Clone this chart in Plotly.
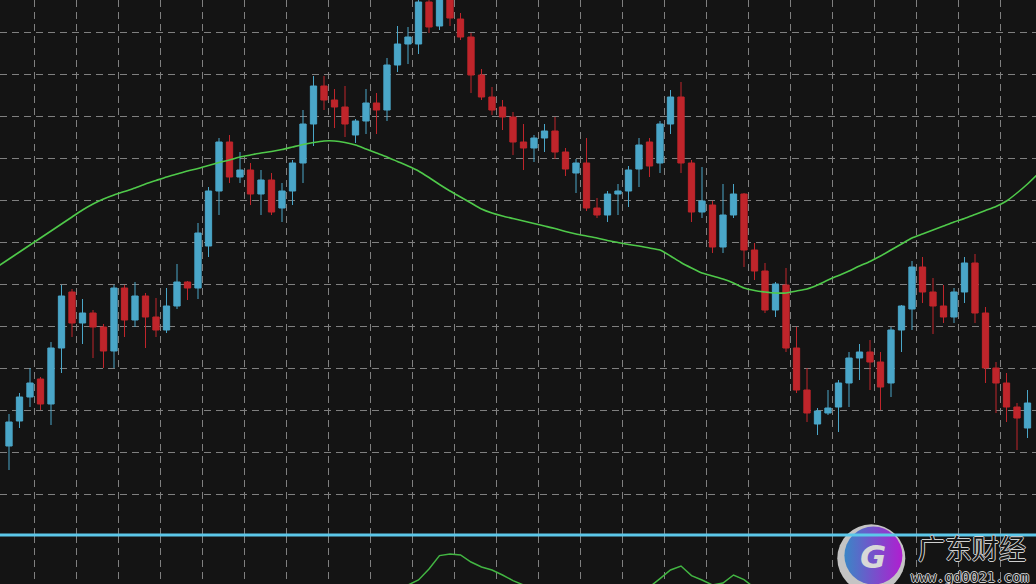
import plotly.graph_objects as go

# ---------------- data ----------------
candle_open = [1.3554, 1.3579, 1.3603, 1.3621, 1.3596, 1.3652, 1.3708, 1.3677, 1.3687, 1.3673,
               1.3649, 1.3712, 1.3680, 1.3704, 1.3683, 1.3670, 1.3694, 1.3718, 1.3712, 1.3754,
               1.3809, 1.3858, 1.3823, 1.3830, 1.3806, 1.3820, 1.3792, 1.3809, 1.3837, 1.3876,
               1.3914, 1.3900, 1.3893, 1.3865, 1.3879, 1.3897, 1.3890, 1.3935, 1.3956, 1.3956,
               1.3998, 1.3974, 1.4003, 1.3981, 1.3963, 1.3925, 1.3903, 1.3893, 1.3883, 1.3858,
               1.3852, 1.3862, 1.3869, 1.3848, 1.3827, 1.3837, 1.3792, 1.3785, 1.3806, 1.3809,
               1.3831, 1.3858, 1.3837, 1.3876, 1.3903, 1.3837, 1.3788, 1.3795, 1.3753, 1.3785,
               1.3806, 1.3750, 1.3729, 1.3690, 1.3715, 1.3652, 1.3610, 1.3576, 1.3587, 1.3593,
               1.3617, 1.3642, 1.3648, 1.3638, 1.3617, 1.3670, 1.3691, 1.3733, 1.3708, 1.3694,
               1.3683, 1.3708, 1.3737, 1.3687, 1.3632, 1.3617, 1.3593, 1.3572]
candle_high = [1.3586, 1.3607, 1.3632, 1.3623, 1.3658, 1.3715, 1.3711, 1.3701, 1.3690, 1.3676,
               1.3715, 1.3715, 1.3718, 1.3707, 1.3702, 1.3712, 1.3736, 1.3719, 1.3777, 1.3813,
               1.3862, 1.3865, 1.3848, 1.3837, 1.3830, 1.3827, 1.3817, 1.3840, 1.3890, 1.3924,
               1.3924, 1.3911, 1.3914, 1.3881, 1.3911, 1.3907, 1.3942, 1.3974, 1.3973, 1.4004,
               1.4004, 1.4008, 1.4008, 1.3987, 1.3967, 1.3931, 1.3913, 1.3900, 1.3888, 1.3876,
               1.3865, 1.3876, 1.3883, 1.3852, 1.3841, 1.3862, 1.3802, 1.3809, 1.3816, 1.3834,
               1.3862, 1.3862, 1.3879, 1.3910, 1.3918, 1.3840, 1.3833, 1.3799, 1.3816, 1.3816,
               1.3807, 1.3757, 1.3737, 1.3718, 1.3732, 1.3673, 1.3632, 1.3592, 1.3610, 1.3620,
               1.3648, 1.3656, 1.3660, 1.3648, 1.3673, 1.3695, 1.3739, 1.3743, 1.3722, 1.3715,
               1.3712, 1.3743, 1.3746, 1.3693, 1.3638, 1.3627, 1.3597, 1.3610]
candle_low = [1.3530, 1.3572, 1.3593, 1.3590, 1.3575, 1.3627, 1.3663, 1.3656, 1.3642, 1.3632,
              1.3632, 1.3663, 1.3673, 1.3652, 1.3663, 1.3667, 1.3691, 1.3700, 1.3701, 1.3743,
              1.3785, 1.3817, 1.3817, 1.3795, 1.3785, 1.3785, 1.3778, 1.3795, 1.3817, 1.3854,
              1.3890, 1.3872, 1.3863, 1.3857, 1.3866, 1.3866, 1.3879, 1.3928, 1.3936, 1.3946,
              1.3967, 1.3970, 1.3974, 1.3960, 1.3907, 1.3900, 1.3885, 1.3870, 1.3845, 1.3830,
              1.3838, 1.3848, 1.3841, 1.3824, 1.3807, 1.3789, 1.3782, 1.3778, 1.3785, 1.3793,
              1.3813, 1.3823, 1.3827, 1.3866, 1.3827, 1.3778, 1.3782, 1.3747, 1.3747, 1.3782,
              1.3733, 1.3720, 1.3687, 1.3683, 1.3648, 1.3607, 1.3578, 1.3565, 1.3585, 1.3568,
              1.3593, 1.3620, 1.3610, 1.3590, 1.3603, 1.3648, 1.3670, 1.3697, 1.3666, 1.3677,
              1.3677, 1.3697, 1.3677, 1.3617, 1.3587, 1.3578, 1.3550, 1.3562]
candle_close = [1.3578, 1.3603, 1.3617, 1.3596, 1.3652, 1.3704, 1.3677, 1.3687, 1.3673, 1.3649,
                1.3712, 1.3680, 1.3704, 1.3683, 1.3670, 1.3694, 1.3718, 1.3712, 1.3767, 1.3809,
                1.3858, 1.3823, 1.3830, 1.3806, 1.3820, 1.3788, 1.3809, 1.3837, 1.3876, 1.3914,
                1.3900, 1.3893, 1.3876, 1.3879, 1.3897, 1.3890, 1.3935, 1.3956, 1.3963, 1.3998,
                1.3973, 1.4003, 1.3982, 1.3963, 1.3925, 1.3903, 1.3890, 1.3883, 1.3858, 1.3852,
                1.3862, 1.3869, 1.3848, 1.3831, 1.3837, 1.3792, 1.3785, 1.3806, 1.3809, 1.3830,
                1.3855, 1.3834, 1.3876, 1.3903, 1.3837, 1.3788, 1.3799, 1.3753, 1.3785, 1.3806,
                1.3750, 1.3729, 1.3690, 1.3716, 1.3652, 1.3610, 1.3587, 1.3589, 1.3592, 1.3617,
                1.3642, 1.3648, 1.3638, 1.3613, 1.3670, 1.3694, 1.3733, 1.3708, 1.3694, 1.3683,
                1.3708, 1.3737, 1.3687, 1.3632, 1.3617, 1.3593, 1.3582, 1.3597]

# moving average, one value per bar from the bar before the first to the bar after the last
ma_values = [1.3734, 1.3741, 1.3748, 1.3755, 1.3762, 1.3769, 1.3776, 1.3783, 1.3790, 1.3796,
             1.3801, 1.3805, 1.38085, 1.3812, 1.3816, 1.38195, 1.3823, 1.3826, 1.3829, 1.38315,
             1.38345, 1.38375, 1.3840, 1.3843, 1.3845, 1.3847, 1.38485, 1.38505, 1.3853, 1.38555,
             1.38575, 1.3859, 1.3859, 1.38575, 1.3855, 1.3851, 1.3847, 1.3843, 1.38385, 1.3834,
             1.3829, 1.38225, 1.38155, 1.3809, 1.3803, 1.3797, 1.3791, 1.3787, 1.3784, 1.37815,
             1.3779, 1.37765, 1.3774, 1.37715, 1.37685, 1.3766, 1.3764, 1.3762, 1.37595, 1.37575,
             1.37555, 1.3754, 1.3752, 1.3750, 1.3744, 1.37375, 1.3732, 1.3727, 1.3724, 1.3721,
             1.3717, 1.3712, 1.37095, 1.3708, 1.3707, 1.3707, 1.3709, 1.3711, 1.3715, 1.3720,
             1.37245, 1.3729, 1.3734, 1.37385, 1.3744, 1.3750, 1.3756, 1.3762, 1.3766, 1.3770,
             1.3774, 1.3778, 1.37815, 1.37855, 1.37895, 1.37935, 1.3799, 1.3807, 1.3816, 1.3826]

# lower-window oscillator, one value per bar (mostly below the visible part of the window)
osc_values = [12, 11, 13, 12, 10, 12, 14, 13, 11, 12,
              13, 12, 11, 12, 13, 14, 12, 11, 12, 13,
              12, 11, 12, 13, 12, 11, 10, 12, 13, 12,
              11, 12, 13, 12, 11, 12, 13, 16, 19.5, 22,
              27.5, 34.2, 35, 34.5, 31, 28.5, 27, 24.5, 21.7, 19.5,
              17, 14, 12, 13, 12, 11, 12, 13, 14, 13,
              16, 18.5, 22.7, 27, 29, 24.2, 22, 19.5, 20.5, 24.5,
              22.2, 18, 14, 12, 11, 12, 13, 12, 11, 12,
              13, 12, 11, 12, 13, 12, 11, 12, 13, 12,
              11, 12, 13, 12, 11, 12, 13, 12]

logo_title = "广东财经"
logo_url = "www.gd0021.com"

# ---------------- styling ----------------
BG = "#141414"
GRID = "#808080"
UP = "#4aa6c8"
DOWN = "#bf252b"
MA_COLOR = "#4fc94a"
OSC_COLOR = "#43b643"
SEP_COLOR = "#5cc8ea"

W, H = 1036, 584
n = len(candle_open)
bar_idx = list(range(n))
ma_idx = list(range(-1, n + 1))

fig = go.Figure()

fig.add_trace(go.Candlestick(
    x=bar_idx, open=candle_open, high=candle_high, low=candle_low, close=candle_close,
    increasing=dict(line=dict(color=UP, width=1), fillcolor=UP),
    decreasing=dict(line=dict(color=DOWN, width=1), fillcolor=DOWN),
    whiskerwidth=0, showlegend=False, hoverinfo="skip",
    xaxis="x", yaxis="y"))

fig.add_trace(go.Scatter(
    x=ma_idx, y=ma_values, mode="lines",
    line=dict(color=MA_COLOR, width=1.6, shape="spline", smoothing=0.6),
    showlegend=False, hoverinfo="skip", xaxis="x", yaxis="y"))

fig.add_trace(go.Scatter(
    x=bar_idx, y=osc_values, mode="lines", line=dict(color=OSC_COLOR, width=1.5),
    showlegend=False, hoverinfo="skip", xaxis="x2", yaxis="y2"))

# watermark logo (decoration, placed in its own small frame)
fig.add_trace(go.Scatter(
    x=[0.49], y=[0.45], mode="markers", cliponaxis=False,
    marker=dict(size=68, color="#c4c4c4", line=dict(width=0)),
    showlegend=False, hoverinfo="skip", xaxis="x3", yaxis="y3"))
fig.add_trace(go.Scatter(
    x=[0.52], y=[0.5], mode="markers", cliponaxis=False,
    marker=dict(size=58, color="#3a86c6", gradient=dict(type="horizontal", color="#b01ed0"),
                line=dict(width=0)),
    showlegend=False, hoverinfo="skip", xaxis="x3", yaxis="y3"))

# ---------------- layout ----------------
px_per_bar = 10.5
first_bar_px = 9.0
x_lo = -first_bar_px / px_per_bar
x_hi = x_lo + W / px_per_bar
grid_x0 = (34 - first_bar_px) / px_per_bar

main_bottom = 50 / H
osc_top = 48 / H
sep_y = (main_bottom + osc_top) / 2

xgrid = dict(showgrid=True, gridcolor=GRID, gridwidth=1, griddash="7px,5px",
             tickmode="linear", tick0=grid_x0, dtick=4, showticklabels=False,
             ticks="", zeroline=False, showline=False, range=[x_lo, x_hi],
             rangeslider=dict(visible=False), fixedrange=True)

fig.update_layout(
    width=W, height=H,
    margin=dict(l=0, r=0, t=0, b=0, pad=0),
    paper_bgcolor=BG, plot_bgcolor="rgba(0,0,0,0)",
    showlegend=False, boxgap=0.4, boxgroupgap=0,
    xaxis=dict(domain=[0, 1], anchor="y", **xgrid),
    xaxis2=dict(domain=[0, 1], anchor="y2", matches="x", **xgrid),
    yaxis=dict(domain=[main_bottom, 1], anchor="x", range=[1.3466, 1.4000],
               showgrid=True, gridcolor=GRID, gridwidth=1, griddash="7px,5px",
               tickmode="linear", tick0=1.3968, dtick=0.0042,
               showticklabels=False, ticks="", zeroline=False, showline=False,
               fixedrange=True),
    yaxis2=dict(domain=[0, osc_top], anchor="x2", range=[20, 44],
                showgrid=False, showticklabels=False, ticks="", zeroline=False,
                showline=False, fixedrange=True),
    xaxis3=dict(domain=[837 / W, 907 / W], anchor="y3", range=[0, 1], visible=False,
                fixedrange=True),
    yaxis3=dict(domain=[0, 57 / H], anchor="x3", range=[0, 1], visible=False,
                fixedrange=True),
)

# separator between the price window and the indicator window
fig.add_shape(type="line", xref="paper", yref="paper", x0=0, x1=1, y0=sep_y, y1=sep_y,
              line=dict(color=SEP_COLOR, width=3), layer="above")

outline = ("1px 0 0 #cfcfcf, -1px 0 0 #cfcfcf, 0 1px 0 #cfcfcf, 0 -1px 0 #cfcfcf")
fig.add_annotation(text="<b><i>G</i></b>", xref="x3", yref="y3", x=0.52, y=0.47,
                   xanchor="center", yanchor="middle", showarrow=False,
                   font=dict(family="DejaVu Sans", size=32, color="#d8d8d8"))
fig.add_annotation(text=logo_title, xref="paper", yref="paper", x=972 / W, y=1 - 547 / H,
                   xanchor="center", yanchor="middle", showarrow=False,
                   font=dict(family="Noto Sans CJK SC", size=27, color="#161616",
                             shadow=outline))
fig.add_annotation(text=logo_url, xref="paper", yref="paper", x=970 / W, y=1 - 577 / H,
                   xanchor="center", yanchor="middle", showarrow=False,
                   font=dict(family="DejaVu Sans Mono", size=14, color="#161616",
                             shadow=outline))

fig.write_html("out.html", config={"displayModeBar": False, "staticPlot": True},
               post_script="document.body.style.margin='0';document.body.style.overflow='hidden';")
